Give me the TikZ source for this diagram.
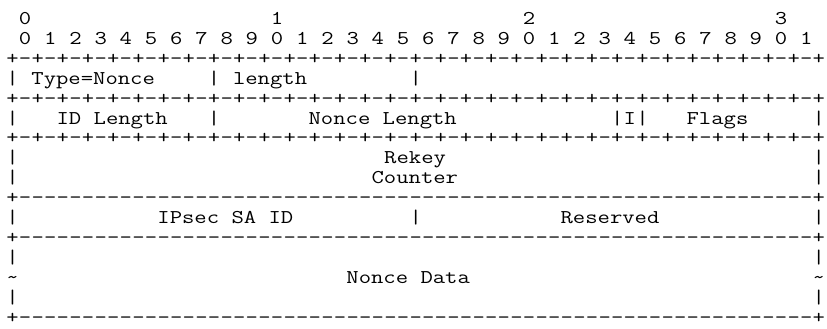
\documentclass[tikz,border=0pt]{standalone}
\usepackage{fontspec}
\newfontfamily\asciifont{Latin Modern Mono}[FakeStretch=1.23]
\tikzset{
    declare function={cx(\c)=12.5+12.6*\c; ry(\r)=-24.5-19.9*\r;},
    chr/.style={font={\asciifont\fontsize{19.5pt}{20pt}\selectfont}, inner sep=0pt, outer sep=0pt, anchor=base},
    fld/.style={chr, anchor=base west, xshift=-6.3pt},
}

\begin{document}
\begin{tikzpicture}[x=1pt, y=1pt]
\useasboundingbox (0,0) rectangle (827,-329);

% bit numbering
\foreach \t in {0,...,3}
    \node[chr] (tens-\t) at ({cx(1+20*\t)},{ry(0)}) {\t};
\foreach \k in {0,...,31} {
    \pgfmathtruncatemacro{\d}{mod(\k,10)}
    \node[chr] (bit-\k) at ({cx(1+2*\k)},{ry(1)}) {\d};
}

% +-+- rules
\foreach \r in {2,4,6} {
    \foreach \c in {0,2,...,64}
        \node[chr] (rule-\r-\c) at ({cx(\c)},{ry(\r)}) {+};
    \foreach \c in {1,3,...,63}
        \node[chr] (rule-\r-\c) at ({cx(\c)},{ry(\r)}) {-};
}

% +---+ rules
\foreach \r in {9,11,15} {
    \node[chr] (rule-\r-0) at ({cx(0)},{ry(\r)}) {+};
    \node[chr] (rule-\r-64) at ({cx(64)},{ry(\r)}) {+};
    \foreach \c in {1,...,63}
        \node[chr] (rule-\r-\c) at ({cx(\c)},{ry(\r)}) {-};
}

% field separators
\foreach \c/\r in {0/3,16/3,32/3, 0/5,16/5,48/5,50/5,64/5, 0/7,64/7, 0/8,64/8,
                   0/10,32/10,64/10, 0/12,64/12, 0/14,64/14}
    \node[chr] (bar-\c-\r) at ({cx(\c)},{ry(\r)}) {|};
\node[chr] (tilde-left) at ({cx(0)},{ry(13)}) {\char"7E};
\node[chr] (tilde-right) at ({cx(64)},{ry(13)}) {\char"7E};

% field names
\node[fld] (type) at ({cx(2)},{ry(3)}) {Type=Nonce};
\node[fld] (length) at ({cx(18)},{ry(3)}) {length};
\node[fld] (id-length) at ({cx(4)},{ry(5)}) {ID Length};
\node[fld] (nonce-length) at ({cx(24)},{ry(5)}) {Nonce Length};
\node[chr] (i-flag) at ({cx(49)},{ry(5)}) {I};
\node[fld] (flags) at ({cx(54)},{ry(5)}) {Flags};
\node[fld] (rekey) at ({cx(30)},{ry(7)}) {Rekey};
\node[fld] (counter) at ({cx(29)},{ry(8)}) {Counter};
\node[fld] (sa-id) at ({cx(12)},{ry(10)}) {IPsec SA ID};
\node[fld] (reserved) at ({cx(44)},{ry(10)}) {Reserved};
\node[fld] (nonce-data) at ({cx(27)},{ry(13)}) {Nonce Data};

\end{tikzpicture}
\end{document}
